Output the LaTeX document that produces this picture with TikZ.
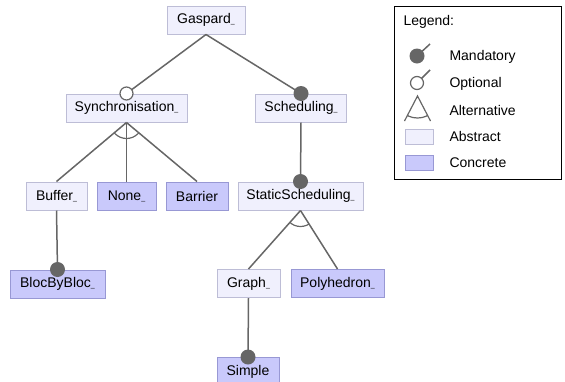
\documentclass[tikz,border=0pt]{standalone}
\usepackage{fontspec}
\setmainfont{Liberation Sans}
\usetikzlibrary{calc}
\definecolor{absfill}{HTML}{F0F0FD}
\definecolor{absdraw}{HTML}{BDBDD6}
\definecolor{confill}{HTML}{C9C9FB}
\definecolor{condraw}{HTML}{9898D4}
\definecolor{edgegray}{HTML}{666666}
\newcommand{\usc}{{\fontsize{7}{7}\selectfont\_}}
\tikzset{
  feat/.style={minimum height=28pt, inner sep=0pt, line width=1pt, font=\fontsize{14}{16}\selectfont},
  abstractf/.style={feat, draw=absdraw, fill=absfill},
  concretef/.style={feat, draw=condraw, fill=confill},
  edge/.style={draw=edgegray, line width=1.5pt},
  mand/.style={fill=edgegray, draw=none},
  opt/.style={fill=white, draw=edgegray, line width=1.2pt},
  legtext/.style={anchor=west, font=\fontsize{14}{16}\selectfont},
}
\begin{document}
\begin{tikzpicture}[x=1pt,y=-1pt]
\useasboundingbox (0,0) rectangle (565,381);
\clip (0,0) rectangle (565,381);
% nodes
\node[abstractf, minimum width=78pt] (gas) at (206,20) {Gaspard\usc};
\node[abstractf, minimum width=121pt] (syn) at (126.5,108) {Synchronisation\usc};
\node[abstractf, minimum width=91pt] (sch) at (301,108) {Scheduling\usc};
\node[abstractf, minimum width=61pt] (buf) at (56.5,196) {Buffer\usc};
\node[concretef, minimum width=59pt] (non) at (126.5,196) {None\usc};
\node[concretef, minimum width=62pt] (bar) at (197,196) {Barrier};
\node[abstractf, minimum width=125pt] (sts) at (300.5,196) {StaticScheduling\usc};
\node[concretef, minimum width=95pt] (blo) at (57.5,284) {BlocByBloc\usc};
\node[abstractf, minimum width=63pt] (gra) at (248.5,283.5) {Graph\usc};
\node[concretef, minimum width=93pt] (pol) at (337.5,283.5) {Polyhedron\usc};
\node[concretef, minimum width=62pt] (sim) at (248,371.5) {Simple};
% edges
\draw[edge] (gas.south) -- (syn.north);
\draw[edge] (gas.south) -- (sch.north);
\draw[edge] (syn.south) -- (buf.north);
\draw[edge] (syn.south) -- (non.north);
\draw[edge] (syn.south) -- (bar.north);
\draw[edge] (sch.south) -- (sts.north);
\draw[edge] (buf.south) -- (blo.north);
\draw[edge] (sts.south) -- (gra.north);
\draw[edge] (sts.south) -- (pol.north);
\draw[edge] (gra.south) -- (sim.north);
% alternative arcs
\begin{scope}
\clip (syn.south) -- (buf.north) -- (bar.north) -- cycle;
\draw[edgegray, line width=1.2pt] (syn.south) circle (16);
\end{scope}
\begin{scope}
\clip (sts.south) -- (gra.north) -- (pol.north) -- cycle;
\draw[edgegray, line width=1.2pt] (sts.south) circle (16);
\end{scope}
% decorations
\draw[opt] (syn.north) circle (6.5);
\fill[mand] (sch.north) circle (7.5);
\fill[mand] (sts.north) circle (7.5);
\fill[mand] (blo.north) circle (7.5);
\fill[mand] (sim.north) circle (7.5);
% legend
\node[draw=black, line width=1pt, minimum width=167pt, minimum height=173pt, inner sep=0pt] (leg) at (478,92.5) {};
\node[legtext] (legt) at (400,22) {Legend:};
\coordinate (m1) at (417,56);
\coordinate (m2) at (430,44);
\draw[edge] (m1) -- (m2);
\fill[mand] (m1) circle (7.5);
\node[legtext] (lm) at (446,57) {Mandatory};
\coordinate (o1) at (417,83);
\coordinate (o2) at (430,70);
\draw[edge] (o1) ++(4.6,-4.6) -- (o2);
\draw[opt] (o1) circle (6.5);
\node[legtext] (lo) at (446,84) {Optional};
\coordinate (a0) at (417.5,96);
\coordinate (a1) at (404.5,121);
\coordinate (a2) at (430.5,121);
\draw[edgegray, line width=1.2pt] (a1) -- (a0) -- (a2);
\begin{scope}
\clip (a0) -- ($(a0)!1.3!(a1)$) -- ($(a0)!1.3!(a2)$) -- cycle;
\draw[edgegray, line width=1.2pt] (a0) circle (22);
\end{scope}
\node[legtext] (la) at (446,110) {Alternative};
\node[draw=absdraw, fill=absfill, line width=1pt, minimum width=28pt, minimum height=15pt, inner sep=0pt] (ra) at (419,136.5) {};
\node[legtext] (lab) at (446,136) {Abstract};
\node[draw=condraw, fill=confill, line width=1pt, minimum width=28pt, minimum height=15pt, inner sep=0pt] (rc) at (419,163) {};
\node[legtext] (lc) at (446,163) {Concrete};
\end{tikzpicture}
\end{document}
